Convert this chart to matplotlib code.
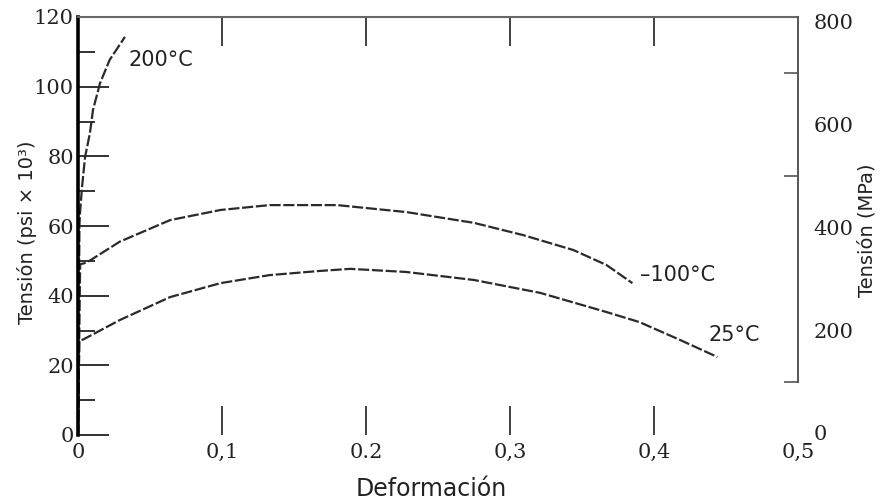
import numpy as np
from matplotlib import pyplot as plt

# strain / stress (ksi)
strain_m200 = [0, 0.001, 0.0014, 0.0028, 0.0049, 0.0083, 0.0104, 0.0153, 0.022, 0.0326]
stress_m200 = [0, 60, 63.7, 71.2, 79.8, 86.7, 93.3, 101, 107.7, 114.3]

strain_m100 = [0, 0.0015, 0.006, 0.029, 0.064, 0.099, 0.133, 0.18, 0.228, 0.275, 0.309, 0.344, 0.367, 0.385]
stress_m100 = [0, 49, 49.5, 55.5, 61.7, 64.6, 66.0, 66.0, 64.0, 60.9, 57.4, 53.1, 48.8, 43.6]

strain_25 = [0, 0.0009, 0.004, 0.029, 0.064, 0.099, 0.133, 0.168, 0.189, 0.228, 0.275, 0.321, 0.367, 0.39, 0.418, 0.444]
stress_25 = [0, 27, 27.5, 33.0, 39.6, 43.6, 45.9, 47.1, 47.7, 46.8, 44.5, 40.8, 35.3, 32.4, 27.3, 22.4]

curve_labels = ["200°C", "–100°C", "25°C"]

x_ticks = [0, 0.1, 0.2, 0.3, 0.4, 0.5]
x_tick_labels = ["0", "0,1", "0.2", "0,3", "0,4", "0,5"]
ksi_ticks = [0, 20, 40, 60, 80, 100, 120]
mpa_ticks = [0, 200, 400, 600, 800]

INK = "#2a2a2a"
TICK_FONT = dict(fontfamily="DejaVu Serif", fontsize=15, color="#222222")

fig = plt.figure(figsize=(8.8, 5.04), dpi=100)
ax = fig.add_axes([78 / 880, 1 - 435 / 504, 720 / 880, 418 / 504])

dash = (0, (5, 1.2))
for xs, ys in [(strain_m200, stress_m200), (strain_m100, stress_m100), (strain_25, stress_25)]:
    ax.plot(xs, ys, color=INK, linewidth=1.6, linestyle=dash, solid_capstyle="butt")

ax.set_xlim(0, 0.5)
ax.set_ylim(0, 120)

# spines
ax.spines["left"].set_linewidth(2.6)
ax.spines["left"].set_color("black")
ax.spines["top"].set_linewidth(1.5)
ax.spines["top"].set_color("#666666")
ax.spines["bottom"].set_visible(False)
ax.spines["right"].set_visible(False)

# x ticks: inward on bottom and top
ax.set_xticks(x_ticks, x_tick_labels, **TICK_FONT)
ax.tick_params(axis="x", which="major", direction="in", top=True, length=21, width=1.3,
               color="#333333", pad=6)
for t in (ax.xaxis.get_major_ticks()[0], ax.xaxis.get_major_ticks()[-1]):
    t.tick1line.set_visible(False)
    t.tick2line.set_visible(False)

# left y ticks
ax.set_yticks(ksi_ticks, [str(v) for v in ksi_ticks], **TICK_FONT)
ax.set_yticks(np.arange(10, 120, 20), minor=True)
ax.tick_params(axis="y", which="major", direction="in", length=22, width=1.3, color="#222222", pad=3)
ax.tick_params(axis="y", which="minor", direction="in", length=12, width=1.3, color="#222222")
ax.yaxis.get_major_ticks()[0].tick1line.set_visible(False)

# right axis in MPa
ax2 = ax.twinx()
ax2.set_ylim(-4, 809)
for side in ["left", "top", "bottom"]:
    ax2.spines[side].set_visible(False)
ax2.spines["right"].set_bounds(100, 809)
ax2.spines["right"].set_color("#555555")
ax2.spines["right"].set_linewidth(1.4)
ax2.set_yticks(mpa_ticks, [str(v) for v in mpa_ticks], **TICK_FONT)
ax2.set_yticks([100, 500, 700], minor=True)
ax2.tick_params(axis="y", which="major", direction="in", length=0, pad=11)
ax2.tick_params(axis="y", which="minor", direction="in", length=10, width=1.2, color="#555555")

# curve labels
label_pos = [(0.035, 107.7), (0.390, 45.9), (0.4375, 28.7)]
for text, (lx, ly) in zip(curve_labels, label_pos):
    ax.text(lx, ly, text, fontsize=15, color="#222222", ha="left", va="center")

# axis labels
ax.set_xlabel("Deformación", fontsize=17, color="#222222")
ax.xaxis.set_label_coords(0.49, -0.1)
ax.set_ylabel("Tensión (psi × 10³)", fontsize=14, color="#222222")
ax.yaxis.set_label_coords(-0.057, 0.486)
ax2.set_ylabel("Tensión (MPa)", fontsize=14, color="#222222", rotation=90)
ax2.yaxis.set_label_coords(1.083, 0.49)

fig.savefig("out.png", dpi=100)
